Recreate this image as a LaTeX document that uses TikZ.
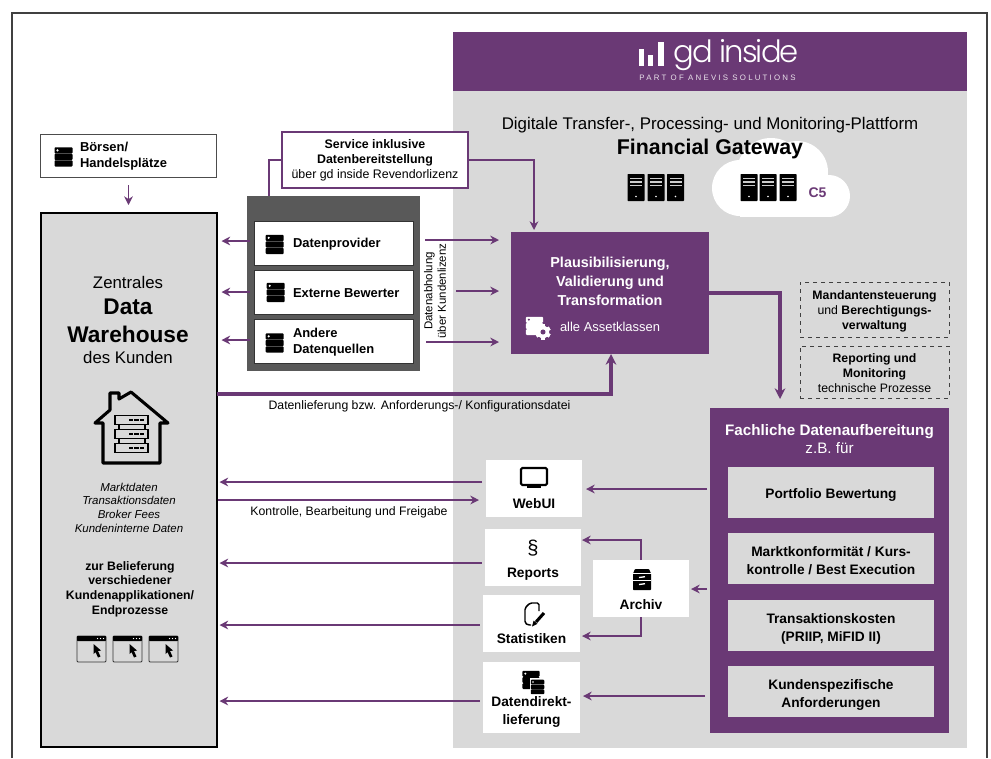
\documentclass[tikz,border=0pt]{standalone}
\usepackage{fontspec}
\setmainfont{Liberation Sans}
\newfontfamily\logofont[UprightFont={* Light}]{Poppins}
\usetikzlibrary{arrows.meta}
\definecolor{plum}{HTML}{6A3975}
\definecolor{panelgray}{HTML}{D9D9D9}
\definecolor{darkgray}{HTML}{595959}
\newcommand{\fbody}{\fontsize{9.3}{11.3}\selectfont}
\newcommand{\fmid}{\fontsize{9.7}{12}\selectfont}
\newcommand{\fitem}{\fontsize{10.3}{13.4}\selectfont}
\newcommand{\fproc}{\fontsize{10.8}{14.3}\selectfont}
\newcommand{\fnote}{\fontsize{8.6}{10.2}\selectfont}
\newcommand{\fflow}{\fontsize{9.2}{10}\selectfont}
\tikzset{
  boxsize/.style 2 args={minimum width=#1*0.75pt,minimum height=#2*0.75pt},
  plainbox/.style={shape=rectangle,inner sep=0pt,outer sep=0pt},
  whitebox/.style={plainbox,fill=white},
  grayitem/.style={plainbox,fill=panelgray},
  dashbox/.style={plainbox,draw=black!75,dashed,line width=0.75pt},
  textlabel/.style={inner sep=0pt,outer sep=0pt,align=center,font=\fbody},
  boldlabel/.style={textlabel,font=\fmid\bfseries},
  itemlabel/.style={textlabel,font=\fitem\bfseries},
  leftlabel/.style={boldlabel,anchor=west,align=left},
  flowLine/.style={-{Stealth[length=6.5pt,width=6.5pt]},plum,line width=1.3pt},
  bigLine/.style={-{Stealth[length=8pt,width=8pt]},plum,line width=2.6pt},
  plainLine/.style={-,plum,line width=1.3pt},
  pics/stackicon/.style 2 args={code={
    \foreach \yy in {-9.7,-3.2,3.3}
      {\fill[#1,rounded corners=0.7pt] (-9,\yy) rectangle (9,\yy+6.3);}
    \fill[#2] (-6,-6.7) circle (0.9pt);
  }},
  pics/towericon/.style={code={
    \fill[black,rounded corners=0.5pt] (-8.5,-13.5) rectangle (8.5,13.5);
    \foreach \yy in {-10,-6.5,-3}
      {\fill[white!80!black] (-6,\yy) rectangle (6,\yy+1.6);}
    \fill[white] (0,9) circle (0.7pt);
  }},
  pics/windowicon/.style={code={
    \draw[black!80,line width=0.7pt,fill=panelgray,rounded corners=0.8pt] (-14.5,-13) rectangle (14.5,13);
    \fill[black,rounded corners=0.5pt] (-14.5,-13) rectangle (14.5,-8);
    \foreach \xx in {6,9,12}
      {\fill[white] (\xx,-10.5) circle (0.55pt);}
    \fill[black] (2,-5) -- (9.5,1.5) -- (6.5,2) -- (9,7.5) -- (6.5,8.5) -- (4,3) -- (2,5) -- cycle;
  }},
  pics/houseicon/.style={code={
    \draw[black,line width=2.3pt,line join=round]
      (0,-36) -- (37,-5) -- (29,-5) -- (29,35) -- (-28,35) -- (-28,-5) -- (-36,-5)
      -- (-21,-18) -- (-21,-35) -- (-12,-35) -- (-12,-29) -- cycle;
    \draw[black,line width=1.3pt] (-12,-3.5) -- (-12,1.5) (14,-3.5) -- (14,1.5);
    \draw[black,line width=1.3pt] (-12,10.5) -- (-12,15.5) (14,10.5) -- (14,15.5);
    \foreach \yy in {-9,5,19}
      {\draw[black,line width=1.3pt] (-16,\yy-3.5) rectangle (17,\yy+5.5);
       \draw[black,line width=1.2pt,dash pattern=on 3.2pt off 0.9pt] (-2,\yy+1) -- (14,\yy+1);}
  }},
  pics/gearicon/.style={code={
    \foreach \aa in {0,60,...,300}
      {\fill[white,rotate=\aa] (-2,-8.5) rectangle (2,8.5);}
    \fill[white] (0,0) circle (5.2pt);
    \fill[plum] (0,0) circle (2.1pt);
  }},
  pics/monitoricon/.style={code={
    \draw[black,line width=1.6pt,rounded corners=1pt] (-13,-9) rectangle (13,8);
    \fill[black] (-7,9) rectangle (7,11);
  }},
  pics/noteicon/.style={code={
    \draw[black,line width=1.1pt,rounded corners=1.2pt,line join=round]
      (8,-3) -- (8,-11) -- (-1,-11) -- (-6,-6) -- (-6,9) -- (-3,11) -- (0,11);
    \draw[black,line width=2.3pt] (5,8) -- (13,-1);
    \fill[black] (1,12.5) -- (2.6,6.6) -- (6.4,9.8) -- cycle;
  }},
  pics/cabineticon/.style={code={
    \fill[black,rounded corners=0.5pt] (-7,-10.5) -- (7,-10.5) -- (9,-6) -- (9,10.5) -- (-9,10.5) -- (-9,-6) -- cycle;
    \fill[white] (-9,-6.5) rectangle (9,-5.4);
    \fill[white] (-9,0.5) rectangle (9,1.5);
    \draw[white,line width=1pt] (-3,-2) -- (3,-2.8);
    \draw[white,line width=1pt] (-3,5) -- (3,4.2);
  }}
}
\begin{document}
\begin{tikzpicture}[x=0.75pt,y=-0.75pt]
\useasboundingbox (0,0) rectangle (991,758);
%% frame and panel
\draw[black!75,line width=1pt] (12,758) -- (12,13) -- (987,13) -- (987,758);
\node (panel) at (710,419.5) [plainbox,fill=panelgray,boxsize={514}{657}] {};
\node (header) at (710,61.5) [plainbox,fill=plum,boxsize={514}{59}] {};
%% logo
\foreach \barname/\xa/\xb/\ytop in {barone/638.5/643.5/49, bartwo/648/653/55, barthree/657.5/664/42}
{
  \fill[white] (\xa,\ytop) rectangle (\xb,66);
}
\node (logotext) at (736,55) [inner sep=0pt,text=white,font=\logofont\fontsize{23}{23}\selectfont\addfontfeature{LetterSpace=-6}] {gd inside};
\node (logosub) at (717.5,78) [inner sep=0pt,text=white!85!plum,font=\fontsize{5.9}{6}\selectfont\addfontfeature{LetterSpace=28}] {PART OF ANEVIS SOLUTIONS};
%% cloud
\fill[white] (740,188) circle (28*0.75pt) (771,172) circle (34*0.75pt)
  (797,172) circle (31*0.75pt) (829,196) circle (21*0.75pt);
\fill[white] (740,185) rectangle (829,216.5);
\node (titletext) at (710,125.5) [inner sep=0pt,font=\fontsize{12.65}{14}\selectfont] {Digitale Transfer-, Processing- und Monitoring-Plattform};
\node (gatewaytext) at (710,149) [inner sep=0pt,font=\fontsize{16}{18}\selectfont\bfseries] {Financial Gateway};
\foreach \towername/\x in {towera/636, towerb/656, towerc/675.5, towerd/749, towere/768, towerf/788}
{
  \pic (\towername) at (\x,187.5) {towericon};
}
\node (cfive) at (817.5,193) [inner sep=0pt,text=plum,font=\fontsize{10.5}{12}\selectfont\bfseries] {C5};
%% boxes on the left
\node (boerse) at (128.5,155.5) [whitebox,draw=black!70,line width=0.75pt,boxsize={176}{43}] {};
\node (dwh) at (128.5,480) [plainbox,fill=panelgray,draw=black,line width=1.5pt,boxsize={176}{534}] {};
\node (dark) at (333.5,283.5) [plainbox,fill=darkgray,boxsize={173}{175}] {};
\foreach \nodename/\y in {provider/243, bewerter/292, quellen/341}
{
  \node (\nodename) at (333.5,\y) [whitebox,draw=black!80,line width=0.6pt,boxsize={159}{44}] {};
}
\node (service) at (375,160) [whitebox,draw=plum,line width=1.1pt,align=center,font=\fbody,boxsize={186}{56}]
  {\textbf{Service inklusive}\\\textbf{Datenbereitstellung}\\über gd inside Revendorlizenz};
\foreach \iconname/\x/\y in {boerseicon/63.5/157, providericon/274.7/244.5, bewertericon/275.7/292.5, quellenicon/274.7/343}
{
  \pic (\iconname) at (\x,\y) {stackicon={black}{white}};
}
\node (boersetext) at (80,156.5) [leftlabel,font=\fontsize{9.7}{12.2}\selectfont\bfseries] {Börsen/\\Handelsplätze};
\node (providertext) at (293,244) [leftlabel] {Datenprovider};
\node (bewertertext) at (293,293) [leftlabel] {Externe Bewerter};
\node (quellentext) at (293,342.5) [leftlabel] {Andere\\Datenquellen};
\node (abholtext) at (435,291) [textlabel,rotate=90,font=\fnote] {Datenabholung\\über Kundenlizenz};
%% data warehouse texts
\node (zentral) at (128,282) [inner sep=0pt,font=\fontsize{12.6}{14}\selectfont] {Zentrales};
\node (dwhtitle) at (128,320.5) [inner sep=0pt,align=center,font=\fontsize{17}{21}\selectfont\bfseries] {Data\\Warehouse};
\node (kunde) at (128,357) [inner sep=0pt,font=\fontsize{12.6}{14}\selectfont] {des Kunden};
\pic (houseicon) at (131,428) {houseicon};
\node (datenarten) at (129,507.5) [textlabel,font=\fontsize{8.6}{10.3}\selectfont\itshape] {Marktdaten\\Transaktionsdaten\\Broker Fees\\Kundeninterne Daten};
\node (belieferung) at (130,589) [boldlabel,font=\fontsize{9.2}{11}\selectfont\bfseries] {zur Belieferung\\verschiedener\\Kundenapplikationen/\\Endprozesse};
\foreach \iconname/\x in {windowa/91.5, windowb/127.5, windowc/163.5}
{
  \pic (\iconname) at (\x,649) {windowicon};
}
%% processing box
\node (plausi) at (610,293) [plainbox,fill=plum,boxsize={198}{122}] {};
\node (plausitext) at (610,281.5) [textlabel,text=white,font=\fproc\bfseries] {Plausibilisierung,\\Validierung und\\Transformation};
\pic (plausistack) at (534.5,326) [scale=0.95] {stackicon={white}{plum}};
\pic (plausigear) at (543,332) [scale=0.9] {gearicon};
\node (assettext) at (610,327) [textlabel,text=white,font=\fontsize{9.7}{11}\selectfont] {alle Assetklassen};
%% dashed boxes
\node (mandant) at (874.5,309.5) [dashbox,boxsize={149}{55}] {};
\node (monitoring) at (874.5,372) [dashbox,boxsize={149}{52}] {};
\node (mandanttext) at (874.5,311) [textlabel,font=\fontsize{9.2}{11.2}\selectfont] {\textbf{Mandantensteuerung}\\und \textbf{Berechtigungs-}\\\textbf{verwaltung}};
\node (monitoringtext) at (874.5,373) [textlabel,font=\fontsize{9.2}{11.2}\selectfont] {\textbf{Reporting und}\\\textbf{Monitoring}\\technische Prozesse};
%% domain box
\node (fach) at (829.5,570.5) [plainbox,fill=plum,boxsize={239}{325}] {};
\node (fachtext) at (829.5,439) [textlabel,text=white,font=\fontsize{11.4}{13.5}\selectfont] {\textbf{Fachliche Datenaufbereitung}\\z.B. für};
\foreach \nodename/\y/\ylabel/\labeltext in {
  portfolio/492/494.5/{Portfolio Bewertung},
  konform/558.5/561/{Marktkonformität / Kurs-\\kontrolle / Best Execution},
  kosten/625.5/629/{Transaktionskosten\\(PRIIP, MiFID II)},
  spezial/691.5/695/{Kundenspezifische\\Anforderungen}}
{
  \node (\nodename) at (831,\y) [grayitem,boxsize={206}{51}] {};
  \node (\nodename text) at (831,\ylabel) [itemlabel] {\labeltext};
}
%% output boxes
\foreach \nodename/\x/\y/\w/\h in {
  webui/534/488.5/96/57, reports/533/557.5/96/57, statistik/531.5/623.5/97/57,
  direkt/531.5/697.5/97/71, archiv/641/588.5/96/57}
{
  \node (\nodename) at (\x,\y) [whitebox,boxsize={\w}{\h}] {};
}
\foreach \textname/\x/\y/\labeltext in {
  webuitext/534/504/WebUI, reportstext/533/574/Reports, statistiktext/531.5/639/Statistiken,
  archivtext/641/605/Archiv}
{
  \node (\textname) at (\x,\y) [itemlabel] {\labeltext};
}
\node (direkttext) at (531.5,712) [itemlabel] {Datendirekt-\\lieferung};
\pic (monitor) at (534,477) {monitoricon};
\node (paragraph) at (533,548) [inner sep=0pt,font=\fontsize{15}{16}\selectfont] {§};
\pic (note) at (531,614) {noteicon};
\pic (cabinet) at (642,579.5) {cabineticon};
\pic (directa) at (531,680) [scale=0.95] {stackicon={black}{white}};
\fill[white] (530,678) rectangle (545,695);
\pic (directb) at (537.5,687) [scale=0.75] {stackicon={black}{white}};
%% edges or lines
\draw[flowLine] (boerse.south) ++(0,8) -- ++(0,20);
\foreach \y in {241, 292, 340}
{
  \draw[flowLine,shorten <=-3*0.75pt,shorten >=5*0.75pt] (dark.west |- 0,\y) -- (dwh.east |- 0,\y);
}
\foreach \y/\gap in {240/5, 291/36, 342/6}
{
  \draw[flowLine,shorten <=\gap*0.75pt,shorten >=12*0.75pt] (dark.east |- 0,\y) -- (plausi.west |- 0,\y);
}
\draw[plainLine] (dark.north -| 269,0) |- (service.west);
\draw[flowLine,shorten >=2*0.75pt] (service.east) -| (plausi.north -| 534,0);
\draw[bigLine,shorten >=9*0.75pt] (plausi.east) -| (fach.north -| 780,0);
\draw[bigLine] (dwh.east |- 0,394) -| (plausi.south -| 611,0);
\node (lieferungtext) at (419.5,406) [textlabel,font=\fflow] {Datenlieferung bzw. Anforderungs-/ Konfigurationsdatei};
\draw[flowLine,shorten <=4*0.75pt,shorten >=3*0.75pt] (webui.west |- 0,482) -- (dwh.east |- 0,482);
\draw[flowLine,shorten <=1*0.75pt,shorten >=7*0.75pt] (dwh.east |- 0,500) -- (webui.west |- 0,500);
\node (kontrolletext) at (349,512) [textlabel,font=\fflow] {Kontrolle, Bearbeitung und Freigabe};
\foreach \srcnode/\y in {reports/563, statistik/625, direkt/701}
{
  \draw[flowLine,shorten <=3.5*0.75pt,shorten >=3*0.75pt] (\srcnode.west |- 0,\y) -- (dwh.east |- 0,\y);
}
\draw[flowLine,shorten <=3*0.75pt,shorten >=4*0.75pt] (fach.west |- 0,489) -- (webui.east |- 0,489);
\draw[flowLine,shorten <=3*0.75pt,shorten >=2*0.75pt] (fach.west |- 0,589) -- (archiv.east |- 0,589);
\draw[flowLine,shorten <=5*0.75pt,shorten >=3*0.75pt] (fach.west |- 0,696) -- (direkt.east |- 0,696);
\draw[flowLine,shorten >=1*0.75pt] (archiv.north) |- (reports.east |- 0,540);
\draw[flowLine,shorten >=2*0.75pt] (archiv.south) |- (statistik.east |- 0,636);
\end{tikzpicture}
\end{document}
